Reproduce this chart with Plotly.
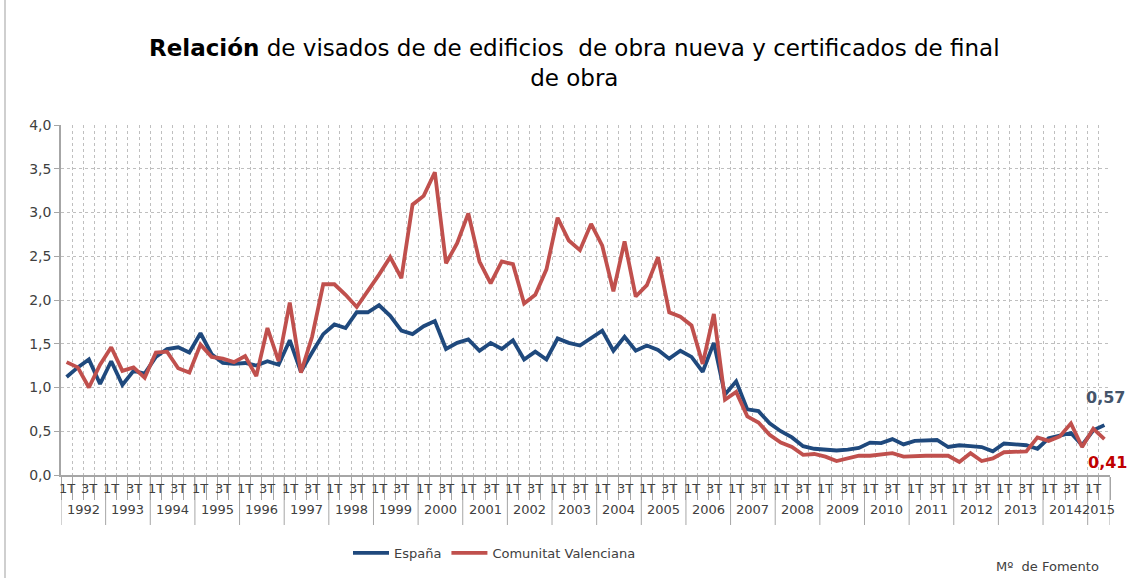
import plotly.graph_objects as go

years = [str(y) for y in range(1992, 2016)]
quarter_labels = ["1T", "", "3T", ""]

espana = [
    1.12, 1.23, 1.32, 1.04, 1.30, 1.03, 1.19, 1.16,   # 1992-1993
    1.35, 1.44, 1.46, 1.40, 1.62, 1.38, 1.28, 1.27,   # 1994-1995
    1.28, 1.25, 1.30, 1.26, 1.54, 1.18, 1.40, 1.61,   # 1996-1997
    1.72, 1.68, 1.86, 1.86, 1.94, 1.82, 1.65, 1.61,   # 1998-1999
    1.70, 1.76, 1.44, 1.51, 1.55, 1.42, 1.51, 1.44,   # 2000-2001
    1.54, 1.32, 1.41, 1.32, 1.56, 1.51, 1.48, 1.56,   # 2002-2003
    1.65, 1.42, 1.58, 1.42, 1.48, 1.43, 1.33, 1.42,   # 2004-2005
    1.35, 1.18, 1.51, 0.92, 1.07, 0.75, 0.73, 0.59,   # 2006-2007
    0.50, 0.43, 0.33, 0.30, 0.29, 0.28, 0.29, 0.31,   # 2008-2009
    0.37, 0.365, 0.41, 0.35, 0.39, 0.39, 0.40, 0.32,  # 2010-2011
    0.34, 0.33, 0.32, 0.27, 0.36, 0.35, 0.34, 0.30,   # 2012-2013
    0.42, 0.45, 0.48, 0.34, 0.51, 0.57,               # 2014-2015
]

valenciana = [
    1.29, 1.23, 1.00, 1.26, 1.46, 1.19, 1.23, 1.11,   # 1992-1993
    1.40, 1.41, 1.22, 1.17, 1.49, 1.35, 1.33, 1.29,   # 1994-1995
    1.36, 1.13, 1.68, 1.30, 1.97, 1.17, 1.58, 2.18,   # 1996-1997
    2.18, 2.06, 1.92, 2.10, 2.29, 2.49, 2.25, 3.09,   # 1998-1999
    3.19, 3.46, 2.42, 2.65, 2.99, 2.44, 2.19, 2.44,   # 2000-2001
    2.41, 1.96, 2.06, 2.35, 2.94, 2.68, 2.57, 2.87,   # 2002-2003
    2.62, 2.10, 2.67, 2.04, 2.17, 2.49, 1.86, 1.81,   # 2004-2005
    1.71, 1.27, 1.84, 0.86, 0.95, 0.67, 0.60, 0.46,   # 2006-2007
    0.37, 0.32, 0.23, 0.24, 0.21, 0.16, 0.19, 0.22,   # 2008-2009
    0.22, 0.23, 0.25, 0.21, 0.22, 0.22, 0.22, 0.22,   # 2010-2011
    0.15, 0.25, 0.16, 0.19, 0.26, 0.27, 0.27, 0.43,   # 2012-2013
    0.39, 0.44, 0.59, 0.32, 0.53, 0.41,               # 2014-2015
]

y_ticks = [0, 0.5, 1.0, 1.5, 2.0, 2.5, 3.0, 3.5, 4.0]

n = len(espana)
xs = list(range(n))

BLUE = "#1F497D"
RED = "#C0504D"
GRID = "#BFBFBF"
AXIS = "#A6A6A6"
TXT = "#404040"
FONT = "'DejaVu Sans', sans-serif"

fig = go.Figure()
fig.add_trace(go.Scatter(x=xs, y=espana, mode="lines", name="España",
                         line=dict(color=BLUE, width=3.8)))
fig.add_trace(go.Scatter(x=xs, y=valenciana, mode="lines", name="Comunitat Valenciana",
                         line=dict(color=RED, width=3.8)))

W, H = 1129, 578
L, R, T, B = 61, 19, 125, 103
ph = H - T - B
pw = W - L - R

def py(pix):
    return (H - B - pix) / ph

def px(pix):
    return (pix - L) / pw

annotations = []
for i in range(n):
    lab = quarter_labels[i % 4]
    if lab:
        annotations.append(dict(x=i, y=py(488), xref="x", yref="paper", text=lab,
                                showarrow=False, font=dict(size=13, color=TXT, family=FONT),
                                xanchor="center", yanchor="middle"))
shapes = []
for k, yr in enumerate(years):
    start = 4 * k - 0.5
    end = min(4 * k + 3.5, n - 0.5)
    annotations.append(dict(x=(start + end) / 2, y=py(509), xref="x", yref="paper", text=yr,
                            showarrow=False, font=dict(size=13, color=TXT, family=FONT),
                            xanchor="center", yanchor="middle"))
    shapes.append(dict(type="line", xref="x", yref="paper", x0=start, x1=start,
                       y0=0, y1=py(525), line=dict(color=AXIS, width=1)))
shapes.append(dict(type="line", xref="x", yref="paper", x0=n - 0.5, x1=n - 0.5,
                   y0=0, y1=py(525), line=dict(color=AXIS, width=1)))
shapes.append(dict(type="line", xref="paper", yref="paper",
                   x0=px(5), x1=px(5), y0=py(0), y1=py(H),
                   line=dict(color="#BFBFBF", width=1.5)))

annotations.append(dict(x=n - 1, y=espana[-1], xref="x", yref="y", text="<b>0,57</b>",
                        showarrow=False, xshift=1, yshift=28,
                        font=dict(size=16, color="#44546A", family=FONT)))
annotations.append(dict(x=n - 1, y=valenciana[-1], xref="x", yref="y", text="<b>0,41</b>",
                        showarrow=False, xshift=3, yshift=-23,
                        font=dict(size=16, color="#C00000", family=FONT)))

annotations.append(dict(x=px(574), y=py(63), xref="paper", yref="paper",
                        text="<b>Relación</b> de visados de de edificios  de obra nueva y certificados de final<br>de obra",
                        showarrow=False, align="center",
                        font=dict(size=23, color="#000000", family=FONT),
                        xanchor="center", yanchor="middle"))
annotations.append(dict(x=px(1101), y=py(566), xref="paper", yref="paper",
                        text="Mº  de Fomento", showarrow=False, xanchor="right",
                        font=dict(size=13, color=TXT, family=FONT), yanchor="middle"))

fig.update_layout(
    width=W, height=H,
    margin=dict(l=L, r=R, t=T, b=B, autoexpand=False),
    paper_bgcolor="white", plot_bgcolor="white",
    separators=",.",
    showlegend=True,
    legend=dict(orientation="h", x=px(348), y=py(553),
                xanchor="left", yanchor="middle",
                font=dict(size=13, color=TXT, family=FONT),
                itemwidth=36, bgcolor="rgba(0,0,0,0)"),
    xaxis=dict(range=[-0.5, n - 0.5], tickmode="array",
               tickvals=[i - 0.5 for i in range(n + 1)],
               ticktext=["" for _ in range(n + 1)],
               showgrid=True, gridcolor=GRID, griddash="dot", gridwidth=1,
               ticks="outside", ticklen=23, tickcolor=AXIS,
               showline=True, linecolor=AXIS, linewidth=1.5, zeroline=False),
    yaxis=dict(range=[0, 4.0], tickmode="array", tickvals=y_ticks, tickformat=".1f",
               showgrid=True, gridcolor=GRID, griddash="dot", gridwidth=1,
               ticks="outside", ticklen=5, tickcolor=AXIS,
               showline=True, linecolor=AXIS, linewidth=1.5, zeroline=False,
               tickfont=dict(size=14, color=TXT, family=FONT)),
    annotations=annotations,
    shapes=shapes,
    font=dict(family=FONT),
)

fig.write_html("out.html", config={"displayModeBar": False},
               post_script="document.body.style.margin='0';document.body.style.overflow='hidden';")
